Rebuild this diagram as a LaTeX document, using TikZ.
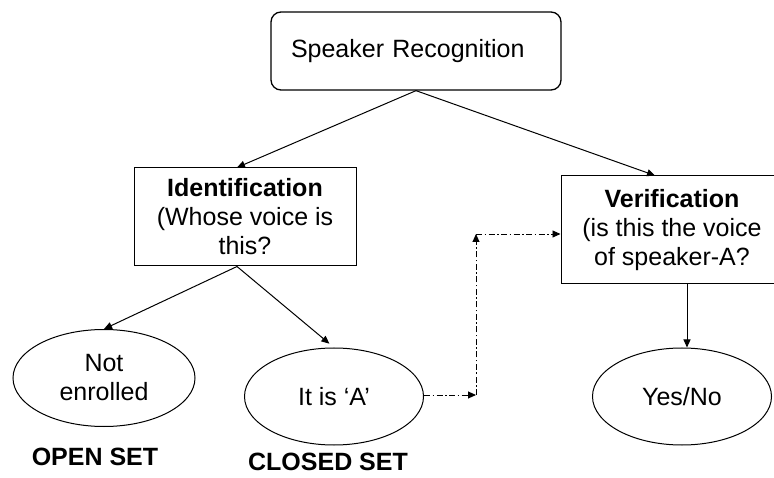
\documentclass[tikz,border=0pt]{standalone}
\usepackage{fontspec}
\setmainfont{Liberation Sans}
\usetikzlibrary{shapes.geometric,arrows.meta}
\begin{document}
\begin{tikzpicture}[x=1pt,y=-1pt,
  every node/.style={font=\fontsize{25}{29}\selectfont, text=black},
  boxnode/.style={draw, line width=1pt, rectangle, align=center, inner sep=0pt},
  ovalnode/.style={draw, line width=1pt, ellipse, align=center, inner sep=0pt, minimum width=179pt, minimum height=97pt},
  arr/.style={line width=1pt, -{Triangle[length=8pt,width=7pt]}},
  dasharr/.style={line width=0.9pt, dash pattern=on 6pt off 2.5pt on 1.5pt off 2.5pt, -{Triangle[length=8pt,width=7pt]}},
  setlabel/.style={font=\fontsize{25}{29}\selectfont\bfseries, inner sep=0.5pt}
]
\useasboundingbox (0,0) rectangle (774,478);
\clip (0,0) rectangle (774,478);
\fill[white] (0,0) rectangle (774,478);

\node[draw, line width=1.3pt, rounded corners=10pt, minimum height=78pt, text width=250pt, inner xsep=20pt, align=left] (top) at (416,51) {Speaker Recognition};

\node[boxnode, minimum width=222pt, minimum height=98pt] (id) at (245,217)
  {\textbf{Identification}\\(Whose voice is\\this?};
\node[boxnode, minimum width=222pt, minimum height=108pt] (ver) at (672,230)
  {\textbf{Verification}\\(is this the voice\\of speaker-A?};

\node[ovalnode, minimum width=182pt] (ne) at (104,378) {Not\\enrolled};
\node[ovalnode] (isA) at (334,396.5) {It is ‘A’};
\node[ovalnode] (yn) at (682,396.5) {Yes/No};

\node[setlabel] (open) at (95,457) {OPEN SET};
\node[setlabel] (closed) at (328,462) {CLOSED SET};

\draw[arr] (top.south) -- ([xshift=-8pt]id.north);
\draw[arr] (top.south) -- ([xshift=-17pt]ver.north);
\draw[arr] ([xshift=-8pt]id.south) -- (ne.north);
\draw[arr, shorten >=6pt] ([xshift=-8pt]id.south) -- (isA.north);
\draw[arr] ([xshift=15pt]ver.south) -- ([xshift=5pt]yn.north);

\coordinate (c1) at (476,395);
\coordinate (c2) at (476,234);
\draw[dasharr] (isA.east |- c1) -- (c1);
\draw[dasharr] (c1) -- (c2);
\draw[dasharr] (c2) -- (ver.west |- c2);
\end{tikzpicture}
\end{document}
